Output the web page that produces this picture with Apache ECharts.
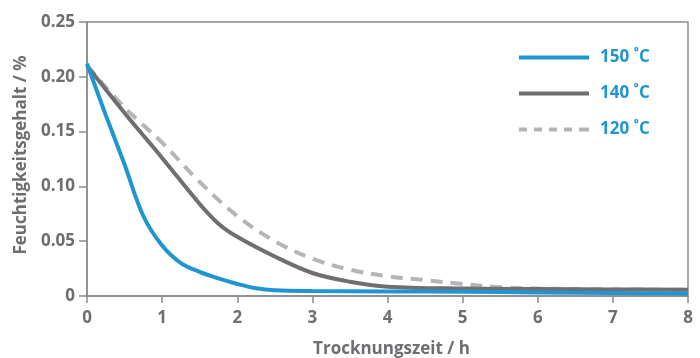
<!DOCTYPE html>
<html>
<head>
<meta charset="utf-8">
<script src="https://cdn.jsdelivr.net/npm/echarts@6/dist/echarts.min.js"></script>
<style>html,body{margin:0;padding:0;background:#fff}#c{width:700px;height:358px}</style>
</head>
<body>
<div id="c"></div>
<script>
var seriesNames = ['150 ˚C', '140 ˚C', '120 ˚C'];
var x150 = [0, 0.25, 0.5, 0.75, 1.0, 1.25, 1.5, 1.75, 2.0, 2.25, 2.5, 3, 4, 5, 6, 7, 8];
var y150 = [0.212, 0.165, 0.120, 0.073, 0.046, 0.030, 0.022, 0.016, 0.011, 0.007, 0.0052, 0.0045, 0.0042, 0.0038, 0.0033, 0.0028, 0.0023];
var x140 = [0, 0.5, 1.0, 1.5, 1.75, 2.0, 2.5, 3.0, 3.5, 4.0, 5.0, 6, 7, 8];
var y140 = [0.210, 0.167, 0.126, 0.084, 0.066, 0.054, 0.036, 0.021, 0.013, 0.0085, 0.0068, 0.0064, 0.006, 0.0057];
var x120 = [0, 0.5, 1.0, 1.5, 2.0, 2.5, 3.0, 3.5, 4.0, 4.5, 5.0, 5.5, 6, 7, 8];
var y120 = [0.210, 0.172, 0.140, 0.104, 0.073, 0.050, 0.034, 0.024, 0.018, 0.0145, 0.011, 0.008, 0.0068, 0.006, 0.0057];
var xTicks = [0, 1, 2, 3, 4, 5, 6, 7, 8];
var yTicks = [0, 0.05, 0.10, 0.15, 0.20, 0.25];

function pairs(xs, ys) { return xs.map(function (v, i) { return [v, ys[i]]; }); }

var BLUE = '#1f96d3', DARK = '#6f6f72', LIGHT = '#b4b5b8', TXT = '#6d6e71', AX = '#8a8b8d';
var FONT = 'Open Sans';
var FS = 17;
var SOLID_ICON = 'path://M0,0H70V4H0Z';
var DASH_ICON = 'path://M0,0H8V4H0ZM15,0H23V4H15ZM30,0H38V4H30ZM45,0H53V4H45ZM60,0H70V4H60Z';

var chart = echarts.init(document.getElementById('c'));
chart.setOption({
  animation: false,
  grid: { left: 87, right: 12, top: 22, bottom: 62, show: true, borderColor: AX, borderWidth: 1.5, outerBoundsMode: 'none', containLabel: false },
  legend: {
    orient: 'vertical', left: 519, top: 49, padding: 0,
    itemWidth: 70, itemHeight: 4, itemGap: 19,
    textStyle: { color: BLUE, fontFamily: FONT, fontWeight: 'bold', fontSize: FS, padding: [0, 0, 0, 6] },
    data: [
      { name: seriesNames[0], icon: SOLID_ICON },
      { name: seriesNames[1], icon: SOLID_ICON },
      { name: seriesNames[2], icon: DASH_ICON }
    ]
  },
  xAxis: {
    type: 'value', min: xTicks[0], max: xTicks[xTicks.length - 1], interval: 1,
    name: 'Trocknungszeit / h', nameLocation: 'middle', nameGap: 45,
    nameTextStyle: { color: TXT, fontFamily: FONT, fontWeight: 'bold', fontSize: FS, padding: [0, 0, 0, 8] },
    axisLine: { lineStyle: { color: AX, width: 1.5 } },
    axisTick: { show: true, length: 7, lineStyle: { color: AX, width: 1.5 } },
    axisLabel: { color: TXT, fontFamily: FONT, fontWeight: 'bold', fontSize: FS, margin: 14 },
    splitLine: { show: false }
  },
  yAxis: {
    type: 'value', min: yTicks[0], max: yTicks[yTicks.length - 1], interval: 0.05,
    name: 'Feuchtigkeitsgehalt / %', nameLocation: 'middle', nameGap: 49,
    nameTextStyle: { color: TXT, fontFamily: FONT, fontWeight: 'bold', fontSize: FS, padding: [0, 0, 0, 8] },
    axisLine: { show: true, lineStyle: { color: AX, width: 1.5 } },
    axisTick: { show: true, length: 8, lineStyle: { color: AX, width: 1.5 } },
    axisLabel: { color: TXT, fontFamily: FONT, fontWeight: 'bold', fontSize: FS, margin: 12,
      formatter: function (v) { return v === 0 ? '0' : v.toFixed(2); } },
    splitLine: { show: false }
  },
  series: [
    { name: seriesNames[2], type: 'line', data: pairs(x120, y120), smooth: 0.35, symbol: 'none', z: 1,
      lineStyle: { color: LIGHT, width: 4, type: [12, 8] }, itemStyle: { color: LIGHT } },
    { name: seriesNames[1], type: 'line', data: pairs(x140, y140), smooth: 0.35, symbol: 'none', z: 2,
      lineStyle: { color: DARK, width: 4 }, itemStyle: { color: DARK } },
    { name: seriesNames[0], type: 'line', data: pairs(x150, y150), smooth: 0.35, symbol: 'none', z: 3,
      lineStyle: { color: BLUE, width: 4 }, itemStyle: { color: BLUE } }
  ]
});
</script>
</body>
</html>
